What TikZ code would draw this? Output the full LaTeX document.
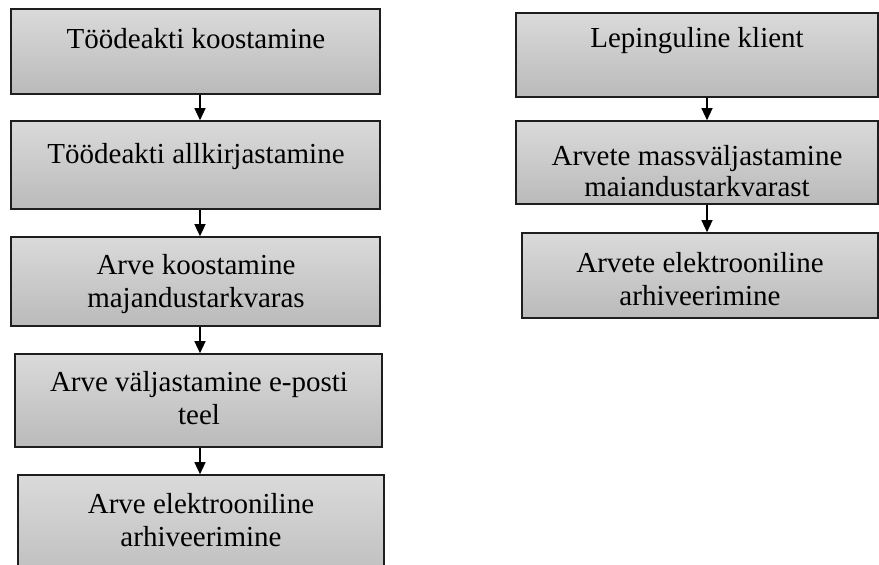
\documentclass[tikz,border=0pt]{standalone}
\usepackage{fontspec}
\setmainfont{Liberation Serif}
\usetikzlibrary{arrows.meta}
\definecolor{boxtop}{RGB}{218,218,218}
\definecolor{boxbot}{RGB}{186,186,186}
\definecolor{boxline}{RGB}{30,30,30}
\tikzset{
  box/.style={rectangle, draw=boxline, line width=1.6pt, top color=boxtop, bottom color=boxbot, inner sep=0pt},
  txt/.style={align=center, inner sep=0pt, font=\fontsize{29}{32.5}\selectfont, anchor=base},
  arr/.style={draw=black, line width=1.3pt, -{Triangle[width=11pt,length=12pt]}}
}
\begin{document}
\begin{tikzpicture}[x=1pt,y=-1pt]
\useasboundingbox (0,0) rectangle (879,565);
\clip (0,0) rectangle (879,565);
% left column boxes
\node[box, minimum width=369pt, minimum height=85pt] (b1) at (195.5,51.5) {};
\node[box, minimum width=369pt, minimum height=88pt] (b2) at (195.5,165) {};
\node[box, minimum width=369pt, minimum height=89pt] (b3) at (195.5,281.5) {};
\node[box, minimum width=367pt, minimum height=93pt] (b4) at (198.5,400.5) {};
\node[box, minimum width=366pt, minimum height=120pt] (b5) at (201,535) {};
% right column boxes
\node[box, minimum width=362pt, minimum height=84pt] (r1) at (697,55) {};
\node[box, minimum width=362pt, minimum height=83pt] (r2) at (697,162.5) {};
\node[box, minimum width=356pt, minimum height=85pt] (r3) at (700,275.5) {};
% texts (base anchor = baseline of last line)
\node[txt] (t1) at (196,48) {Töödeakti koostamine};
\node[txt] (t2) at (196,163) {Töödeakti allkirjastamine};
\node[txt] (t3) at (196,307) {Arve koostamine\\majandustarkvaras};
\node[txt] (t4) at (199,424) {Arve väljastamine e-posti\\teel};
\node[txt] (t5) at (201,546) {Arve elektrooniline\\arhiveerimine};
\node[txt] (s1) at (697,47) {Lepinguline klient};
\node[txt, font=\fontsize{29}{30.5}\selectfont] (s2) at (697,196) {Arvete massväljastamine\\maiandustarkvarast};
\node[txt] (s3) at (700,305) {Arvete elektrooniline\\arhiveerimine};
% arrows
\coordinate (la) at (200,0);
\coordinate (ra) at (707,0);
\draw[arr] (b1.south -| la) -- (b2.north -| la);
\draw[arr] (b2.south -| la) -- (b3.north -| la);
\draw[arr] (b3.south -| la) -- (b4.north -| la);
\draw[arr] (b4.south -| la) -- (b5.north -| la);
\draw[arr] (r1.south -| ra) -- (r2.north -| ra);
\draw[arr] (r2.south -| ra) -- (r3.north -| ra);
\end{tikzpicture}
\end{document}
